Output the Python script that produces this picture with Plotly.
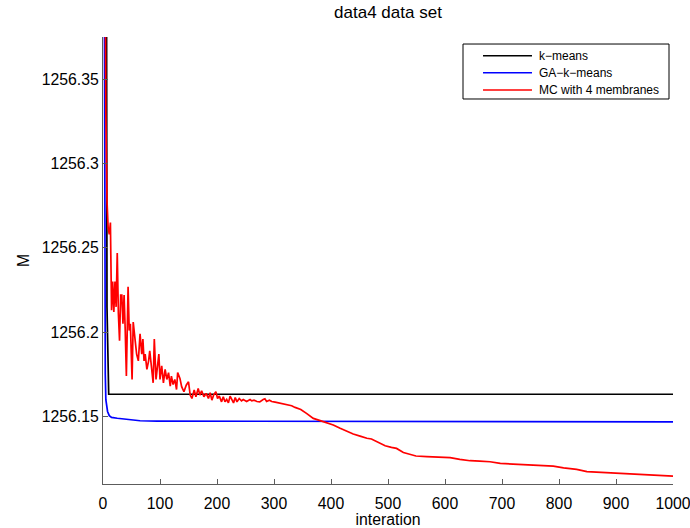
import plotly.graph_objects as go

# ---- series names and styling ----
series_names = ["k\u2212means", "GA\u2212k\u2212means", "MC with 4 membranes"]
series_colors = ["#000000", "#0000ff", "#ff0000"]

# ---- k-means objective per iteration ----
kmeans_iter = [1, 6, 7, 10, 1000]
kmeans_val = [1256.62, 1256.45, 1256.215, 1256.1632, 1256.1632]

# ---- GA-k-means objective per iteration ----
ga_iter = [1, 2, 3, 4, 5, 6, 8, 11, 15, 25, 36, 65, 95, 200, 500, 1000]
ga_val = [1256.62, 1256.36, 1256.22, 1256.175, 1256.160, 1256.156, 1256.153,
          1256.1505, 1256.1495, 1256.149, 1256.1487, 1256.1475, 1256.1473,
          1256.1472, 1256.1470, 1256.1468]

# ---- MC (4 membranes) objective per iteration ----
mc_iter = [1, 3, 5, 7, 8, 9, 11, 13, 15, 17, 19, 21, 23, 25, 27, 29, 31, 33, 35,
           37, 39, 41, 44, 46, 48, 51, 53, 56, 59, 62, 65, 68, 70, 72, 74, 77,
           80, 82, 85, 88, 90, 93, 95, 98, 100, 103, 106, 109, 112, 115, 118,
           120, 123, 126, 129, 131,
           135, 138, 142, 146, 150, 153, 156, 160, 163, 167, 170, 173, 177,
           181, 185, 188, 191, 194, 198, 201, 204, 208, 211, 214, 217, 220,
           223, 226, 229, 232, 235, 239, 243, 246, 252, 258, 261, 265, 270,
           275, 278, 281, 284, 287, 292, 296, 302, 308, 314, 319, 325, 331,
           337, 343, 347,
           357, 369, 381, 392, 404, 416, 428, 439, 451, 463, 471, 483, 495,
           506, 515, 527, 539, 549, 568, 591, 609, 626, 644, 661, 679, 697,
           720, 743, 767, 790, 808, 831, 849, 872, 895, 919, 942, 966, 983,
           1000]
mc_val = [1256.62, 1256.45, 1256.33, 1256.278, 1256.270, 1256.262, 1256.258,
          1256.265, 1256.213, 1256.230, 1256.212, 1256.230, 1256.215, 1256.247,
          1256.211, 1256.195, 1256.222, 1256.222, 1256.205, 1256.222, 1256.201,
          1256.174, 1256.227, 1256.201, 1256.205, 1256.172, 1256.206, 1256.197,
          1256.187, 1256.183, 1256.199, 1256.187, 1256.196, 1256.183, 1256.187,
          1256.178, 1256.183, 1256.189, 1256.180, 1256.170, 1256.196, 1256.172,
          1256.178, 1256.187, 1256.172, 1256.180, 1256.170, 1256.178, 1256.172,
          1256.176, 1256.168, 1256.174, 1256.169, 1256.172, 1256.166, 1256.176,
          1256.1726, 1256.1677, 1256.1647, 1256.1686, 1256.1706, 1256.1627,
          1256.1607, 1256.1657, 1256.1617, 1256.1667, 1256.1627, 1256.1653,
          1256.1617, 1256.1637, 1256.1607, 1256.1641, 1256.1597, 1256.1627,
          1256.1647, 1256.1607, 1256.1621, 1256.1587, 1256.1617, 1256.1587,
          1256.1601, 1256.1581, 1256.1621, 1256.1597, 1256.1581, 1256.1613,
          1256.1587, 1256.1607, 1256.1593, 1256.1601, 1256.1589, 1256.1601,
          1256.1593, 1256.1597, 1256.1589, 1256.1587, 1256.1597, 1256.1601,
          1256.1605, 1256.1589, 1256.1597, 1256.1589, 1256.1585, 1256.1581,
          1256.1578, 1256.1574, 1256.1570, 1256.1564, 1256.1554, 1256.1548,
          1256.1542,
          1256.1519, 1256.1489, 1256.1476, 1256.1464, 1256.1450, 1256.1430,
          1256.1410, 1256.1396, 1256.1384, 1256.1371, 1256.1367, 1256.1345,
          1256.1327, 1256.1317, 1256.1311, 1256.1287, 1256.1278, 1256.1266,
          1256.1262, 1256.1258, 1256.1256, 1256.1246, 1256.1238, 1256.1236,
          1256.1232, 1256.1222, 1256.1218, 1256.1214, 1256.1210, 1256.1206,
          1256.1196, 1256.1187, 1256.1173, 1256.1169, 1256.1165, 1256.1161,
          1256.1157, 1256.1151, 1256.1147, 1256.1147]

# ---- axis ticks ----
x_ticks = [0, 100, 200, 300, 400, 500, 600, 700, 800, 900, 1000]
y_ticks = [1256.15, 1256.2, 1256.25, 1256.3, 1256.35]
y_tick_text = ["1256.15", "1256.2", "1256.25", "1256.3", "1256.35"]

FONT = "Liberation Sans, Arial, Helvetica, sans-serif"
AXIS_COLOR = "#5c5c5c"

fig = go.Figure()
# plotted in legend order: k-means, GA-k-means, MC
for xs, ys, i in [(kmeans_iter, kmeans_val, 0), (ga_iter, ga_val, 1), (mc_iter, mc_val, 2)]:
    fig.add_trace(go.Scatter(x=xs, y=ys, mode="lines", name=series_names[i],
                             line=dict(color=series_colors[i], width=1.7),
                             showlegend=False, cliponaxis=True))

# boxed legend in the upper right of the axes
box_l, box_r, box_t, box_b = 0.6316, 0.993, 0.9843, 0.8613
row_y = [0.9582, 0.9201, 0.8814]
fig.add_shape(type="rect", xref="paper", yref="paper", x0=box_l, x1=box_r,
              y0=box_b, y1=box_t, line=dict(color="#000000", width=1),
              fillcolor="white", layer="above")
for i, name in enumerate(series_names):
    fig.add_shape(type="line", xref="paper", yref="paper", x0=0.6667, x1=0.7526,
                  y0=row_y[i], y1=row_y[i],
                  line=dict(color=series_colors[i], width=1.6), layer="above")
    fig.add_annotation(xref="paper", yref="paper", x=0.7614, y=row_y[i],
                       text=name, showarrow=False, xanchor="left", yanchor="middle",
                       font=dict(family=FONT, size=12, color="#000000"))

fig.update_layout(
    width=690, height=528,
    margin=dict(l=103, r=17, t=37, b=44),
    paper_bgcolor="white", plot_bgcolor="white",
    font=dict(family=FONT, color="#000000"),
    title=dict(text="data4 data set", x=0.5, xref="paper", y=1 - 12 / 528,
               yref="container", xanchor="center", yanchor="middle",
               font=dict(family=FONT, size=17, color="#000000")),
    xaxis=dict(range=[0, 1000], tickvals=x_ticks, ticks="inside", ticklen=5,
               tickcolor=AXIS_COLOR, showline=True, linecolor=AXIS_COLOR,
               linewidth=1, showgrid=False, zeroline=False, automargin=False,
               ticklabelstandoff=5, ticklabeloverflow="allow",
               tickfont=dict(family=FONT, size=15.8, color="#000000"),
               title=dict(text="interation", standoff=0,
                          font=dict(family=FONT, size=15.8, color="#000000"))),
    yaxis=dict(range=[1256.11, 1256.375], tickvals=y_ticks, ticktext=y_tick_text,
               ticks="inside", ticklen=5, tickcolor=AXIS_COLOR, showline=True,
               linecolor=AXIS_COLOR, linewidth=1, showgrid=False, zeroline=False,
               automargin=False,
               tickfont=dict(family=FONT, size=15.8, color="#000000"),
               title=dict(text="M", standoff=8,
                          font=dict(family=FONT, size=15.8, color="#000000"))),
)

fig.write_html("out.html", config={"displayModeBar": False})
